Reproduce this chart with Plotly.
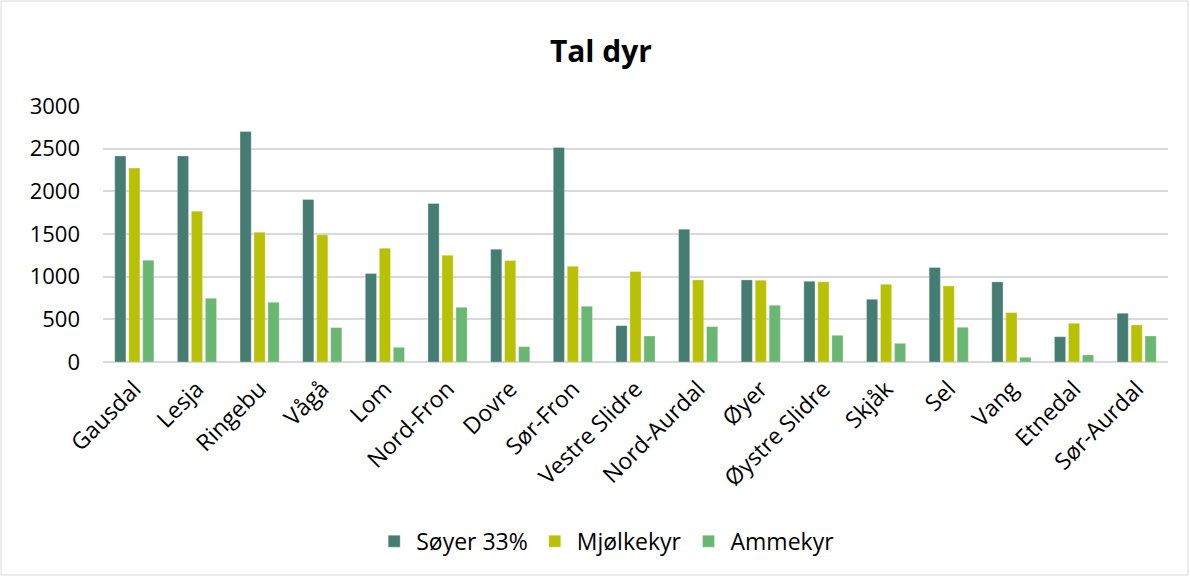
import plotly.graph_objects as go

categories = ["Gausdal", "Lesja", "Ringebu", "Vågå", "Lom", "Nord-Fron", "Dovre", "Sør-Fron",
              "Vestre Slidre", "Nord-Aurdal", "Øyer", "Øystre Slidre", "Skjåk", "Sel", "Vang",
              "Etnedal", "Sør-Aurdal"]
soyer = [2415, 2415, 2700, 1905, 1036, 1858, 1322, 2515, 426, 1557, 962, 946, 735, 1107, 939, 297, 571]
mjolkekyr = [2272, 1768, 1521, 1490, 1334, 1252, 1189, 1122, 1060, 962, 958, 939, 911, 892, 579, 454, 434]
ammekyr = [1193, 747, 700, 403, 172, 641, 180, 653, 305, 415, 665, 313, 219, 407, 55, 82, 305]
y_ticks = [0, 500, 1000, 1500, 2000, 2500, 3000]

FONT = "'Open Sans', Lato, sans-serif"

fig = go.Figure()
for name, vals, col in [("Søyer 33%", soyer, "#467D73"),
                        ("Mjølkekyr", mjolkekyr, "#B8C106"),
                        ("Ammekyr", ammekyr, "#6AB673")]:
    fig.add_trace(go.Bar(name=name, x=categories, y=vals, marker_color=col,
                         marker_line=dict(color="rgba(255,255,255,0.6)", width=0.5)))

fig.update_layout(
    width=1190, height=577,
    paper_bgcolor="white", plot_bgcolor="white",
    margin=dict(l=103, r=22, t=106, b=215),
    barmode="group", bargap=0.33, bargroupgap=0.2,
    title=dict(text="<b>Tal dyr</b>", xref="container", x=0.505, xanchor="center",
               y=0.91, yanchor="middle",
               font=dict(family=FONT, size=30, color="#000000")),
    font=dict(family=FONT, size=22, color="#000000"),
    legend=dict(orientation="h", x=0.472, xanchor="center", y=-0.70, yanchor="middle",
                font=dict(family=FONT, size=23, color="#000000"), itemwidth=34,
                traceorder="normal"),
    xaxis=dict(tickangle=-45, showline=False, ticks="", tickfont=dict(size=23),
               ticklabelstandoff=8),
    yaxis=dict(range=[0, 3000], tickvals=y_ticks, showgrid=True, gridcolor="#D9D9D9",
               gridwidth=1.5, zeroline=True, zerolinecolor="#D9D9D9", zerolinewidth=1.5,
               ticks="", tickfont=dict(size=22), ticklabelstandoff=22),
    shapes=[dict(type="rect", xref="paper", yref="paper",
                 x0=(1 - 103) / 1065, x1=(1188 - 103) / 1065,
                 y0=(362 - 575) / 256, y1=(362 - 1) / 256,
                 line=dict(color="#D9D9D9", width=1), layer="below")],
)

fig.write_html("out.html", config={"displayModeBar": False},
               post_script="document.body.style.margin='0px';document.body.style.overflow='hidden';")
